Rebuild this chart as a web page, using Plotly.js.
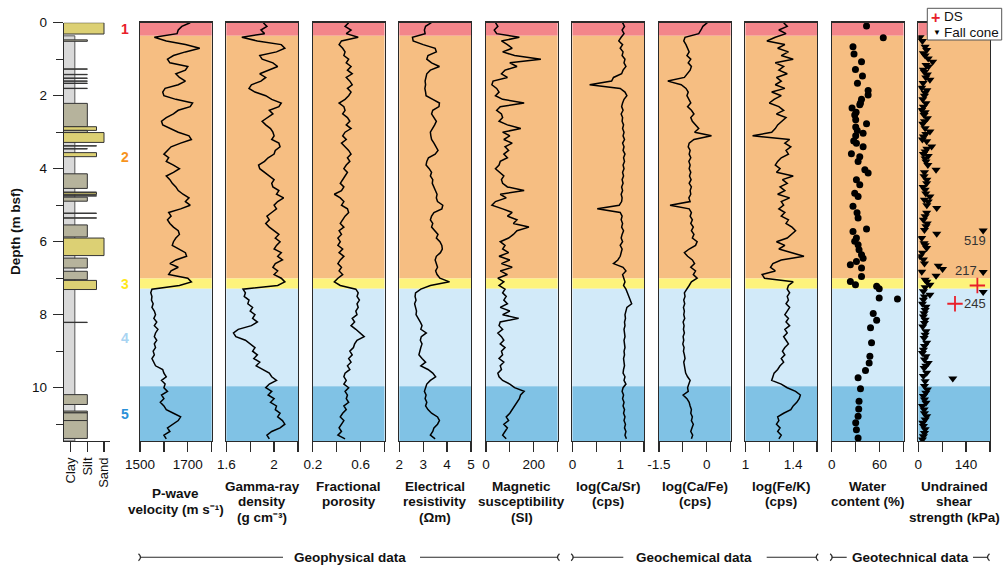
<!DOCTYPE html>
<html><head><meta charset="utf-8">
<script src="https://cdn.plot.ly/plotly-3.0.1.min.js"></script>
<style>html,body{margin:0;padding:0;background:#fff}#chart{width:1004px;height:566px}</style>
</head><body><div id="chart"></div>
<script>
// ---------------- DATA ----------------
const depthGrid = [0,0.1,0.2,0.3,0.4,0.5,0.6,0.7,0.8,0.9,
1,1.1,1.2,1.3,1.4,1.5,1.6,1.7,1.8,1.9,
2,2.1,2.2,2.3,2.4,2.5,2.6,2.7,2.8,2.9,
3,3.1,3.2,3.3,3.4,3.5,3.6,3.7,3.8,3.9,
4,4.1,4.2,4.3,4.4,4.5,4.6,4.7,4.8,4.9,
5,5.1,5.2,5.3,5.4,5.5,5.6,5.7,5.8,5.9,
6,6.1,6.2,6.3,6.4,6.5,6.6,6.7,6.8,6.9,
7,7.1,7.2,7.3,7.4,7.5,7.6,7.7,7.8,7.9,
8,8.1,8.2,8.3,8.4,8.5,8.6,8.7,8.8,8.9,
9,9.1,9.2,9.3,9.4,9.5,9.6,9.7,9.8,9.9,
10,10.1,10.2,10.3,10.4,10.5,10.6,10.7,10.8,10.9,
11,11.1,11.2,11.3,11.4];

const pWave = [1710,1675,1660,1655,1560,1610,1690,1750,1690,1640,
1615,1625,1700,1690,1650,1665,1690,1660,1605,1595,
1600,1650,1720,1710,1660,1640,1610,1590,1595,1630,
1660,1705,1715,1670,1630,1615,1600,1620,1610,1640,
1665,1640,1610,1625,1635,1650,1660,1680,1705,1690,
1710,1670,1620,1630,1615,1625,1640,1660,1665,1650,
1640,1635,1660,1690,1695,1650,1625,1660,1630,1620,
1700,1715,1665,1550,1545,1550,1548,1555,1550,1560,
1565,1558,1570,1560,1575,1565,1560,1570,1560,1565,
1555,1560,1550,1558,1565,1595,1600,1610,1590,1605,
1600,1615,1590,1600,1585,1600,1610,1640,1670,1660,
1640,1615,1625,1600,1610];

const gammaDensity = [1.91,1.94,1.89,1.92,1.73,1.86,2.06,2.09,2.02,1.88,
1.90,1.99,2.03,1.96,1.88,1.93,1.89,1.81,1.79,1.84,
1.93,1.98,2.06,2.04,1.96,1.99,1.95,1.90,1.93,1.97,
1.99,2.00,1.98,2.04,2.05,2.01,2.00,1.95,1.92,1.87,
1.88,1.92,1.97,2.00,1.98,1.99,2.04,2.02,2.08,2.03,
2.00,2.02,1.98,1.94,1.96,1.93,1.96,2.00,2.04,2.01,
2.05,2.02,2.00,2.06,2.03,2.07,2.01,1.99,2.03,2.00,
2.06,2.09,2.03,1.74,1.76,1.75,1.79,1.78,1.82,1.80,
1.84,1.82,1.86,1.81,1.70,1.66,1.68,1.76,1.80,1.84,
1.82,1.86,1.83,1.88,1.85,1.90,1.96,1.98,2.02,1.96,
1.93,1.98,1.95,2.00,1.97,2.02,2.01,2.05,2.03,2.07,
2.09,2.05,1.98,1.94,1.96];

const porosity = [0.50,0.47,0.52,0.48,0.58,0.44,0.42,0.45,0.47,0.46,
0.50,0.48,0.52,0.49,0.53,0.48,0.51,0.53,0.49,0.52,
0.50,0.47,0.42,0.46,0.47,0.45,0.49,0.51,0.48,0.52,
0.47,0.45,0.48,0.44,0.47,0.50,0.52,0.49,0.51,0.48,
0.46,0.49,0.47,0.45,0.43,0.46,0.44,0.38,0.43,0.46,
0.44,0.49,0.50,0.47,0.45,0.43,0.46,0.42,0.44,0.41,
0.43,0.41,0.45,0.42,0.46,0.43,0.41,0.44,0.42,0.45,
0.41,0.38,0.43,0.56,0.58,0.57,0.59,0.57,0.58,0.56,
0.57,0.53,0.55,0.52,0.56,0.60,0.63,0.57,0.55,0.54,
0.51,0.53,0.50,0.52,0.49,0.51,0.47,0.46,0.48,0.46,
0.50,0.47,0.49,0.48,0.50,0.46,0.48,0.45,0.43,0.46,
0.44,0.42,0.44,0.41,0.47];

const resistivity = [3.34,3.10,3.05,3.08,2.55,2.58,3.00,3.50,3.55,3.20,
3.15,3.35,3.68,3.30,3.15,3.12,3.08,3.10,3.07,3.10,
3.12,3.40,3.68,3.66,3.40,3.35,3.45,3.55,3.48,3.38,
3.30,3.32,3.35,3.45,3.55,3.62,3.50,3.22,3.15,3.12,
3.25,3.35,3.30,3.40,3.38,3.45,3.52,3.58,3.55,3.60,
3.82,3.78,3.45,3.35,3.30,3.40,3.35,3.48,3.62,3.55,
3.70,3.78,3.80,3.72,3.55,3.50,3.55,3.60,3.52,3.58,
3.70,4.10,3.30,2.90,2.68,2.66,2.70,2.64,2.68,2.72,
2.70,2.80,2.88,2.95,2.90,3.13,2.92,2.88,2.95,2.90,
2.85,2.82,2.95,3.10,2.90,3.20,3.40,3.52,3.30,3.15,
3.10,3.05,3.12,3.08,3.15,3.10,3.20,3.35,3.60,3.68,
3.60,3.45,3.40,3.30,3.50];

const magSusceptibility = [40,50,35,45,140,65,90,110,70,120,
230,100,130,80,65,90,30,25,45,55,
40,70,160,60,45,65,70,55,90,146,
70,100,75,110,80,95,75,90,60,55,
40,60,75,65,70,90,160,60,85,40,
25,70,110,90,130,115,180,130,115,95,
60,80,70,95,55,100,65,110,60,90,
50,75,55,80,70,85,75,90,60,100,
70,137,60,55,70,50,65,75,60,80,
65,70,55,75,60,65,50,55,70,100,
120,160,145,140,130,120,110,100,85,95,
75,90,80,70,85];

const logCaSr = [1.05,1.09,1.04,1.08,1.02,0.97,1.05,1.00,1.06,1.04,
1.10,1.08,1.12,1.06,1.03,0.86,0.82,0.36,1.00,1.10,
1.14,1.08,1.05,1.03,1.06,1.02,1.05,1.04,1.07,1.05,
1.08,1.06,1.09,1.05,1.08,1.06,1.10,1.07,1.09,1.06,
1.08,1.05,1.07,1.04,1.06,1.03,1.05,1.02,1.04,1.03,
0.98,0.52,1.00,1.04,1.02,1.05,1.03,1.07,1.04,1.02,
1.05,1.00,1.04,1.02,1.00,0.95,0.86,1.06,1.12,1.05,
1.08,1.10,1.07,1.12,1.15,1.18,1.22,1.24,1.14,1.12,
1.10,1.11,1.09,1.10,1.08,1.09,1.10,1.08,1.09,1.10,
1.08,1.09,1.07,1.08,1.09,1.07,1.06,1.10,1.08,1.12,
1.06,1.04,1.07,1.05,1.08,1.06,1.09,1.07,1.10,1.08,
1.11,1.09,1.12,1.10,1.13];

const logCaFe = [0.02,-0.12,-0.18,-0.25,-0.68,-0.72,-0.65,-0.60,-0.55,-0.62,
-0.50,-0.58,-0.48,-0.52,-0.60,-0.70,-1.22,-0.80,-0.65,-0.58,
-0.62,-0.55,-0.50,-0.60,-0.48,-0.40,-0.50,-0.45,-0.35,-0.25,
-0.38,0.15,-0.40,-0.55,-0.58,-0.52,-0.55,-0.50,-0.56,-0.52,
-0.55,-0.50,-0.54,-0.49,-0.55,-0.48,-0.52,-0.50,-0.56,-0.52,
-1.15,-0.55,-0.48,-0.52,-0.45,-0.50,-0.42,-0.48,-0.40,-0.45,
-0.30,-0.35,-0.55,-0.70,-0.60,-0.45,-0.38,-0.50,-0.35,-0.42,
-0.30,-0.48,-0.55,-0.62,-0.70,-0.68,-0.72,-0.69,-0.73,-0.70,
-0.72,-0.69,-0.74,-0.71,-0.73,-0.70,-0.74,-0.72,-0.75,-0.71,
-0.73,-0.70,-0.68,-0.72,-0.70,-0.69,-0.66,-0.60,-0.52,-0.56,
-0.60,-0.58,-0.74,-0.62,-0.55,-0.52,-0.48,-0.50,-0.45,-0.48,
-0.42,-0.46,-0.50,-0.44,-0.48];

const logFeK = [1.32,1.35,1.28,1.34,1.25,1.18,1.33,1.27,1.36,1.30,
1.40,1.25,1.32,1.28,1.35,1.26,1.30,1.25,1.33,1.22,
1.30,1.24,1.20,1.28,1.32,1.26,1.34,1.30,1.27,1.25,
1.22,1.06,1.37,1.33,1.38,1.34,1.36,1.30,1.27,1.25,
1.29,1.26,1.40,1.31,1.35,1.29,1.33,1.27,1.37,1.30,
1.32,1.28,1.33,1.30,1.36,1.34,1.39,1.42,1.38,1.35,
1.26,1.33,1.28,1.38,1.49,1.30,1.23,1.21,1.25,1.14,
1.16,1.40,1.36,1.35,1.37,1.35,1.36,1.34,1.37,1.35,
1.33,1.36,1.34,1.37,1.33,1.35,1.32,1.34,1.36,1.33,
1.31,1.33,1.30,1.32,1.29,1.27,1.24,1.23,1.22,1.30,
1.35,1.42,1.46,1.45,1.43,1.40,1.38,1.32,1.27,1.28,
1.26,1.29,1.27,1.30,1.28];

const waterDepth = [0.09,0.41,0.66,0.86,1.07,1.28,1.46,1.66,1.86,1.98,2.10,2.20,2.25,2.34,2.45,2.53,2.66,2.77,2.86,2.95,3.03,3.10,3.24,3.30,3.40,3.59,3.67,
3.80,4.03,4.12,4.30,4.44,4.67,4.76,5.03,5.21,5.35,5.65,5.72,5.90,5.99,6.08,6.22,6.36,6.45,6.54,6.63,6.72,6.95,7.09,7.18,
7.22,7.29,7.54,7.57,7.97,8.15,8.36,8.77,9.14,9.32,9.53,9.73,10.03,10.37,10.58,10.78,10.96,11.15,11.38];
const waterContent = [43.6,64.6,26.6,27.9,37.3,29.7,38.5,32.2,45.6,45.6,37.3,36.0,35.1,25.4,30.5,28.8,30.0,43.6,30.0,32.0,39.3,30.0,27.5,30.9,39.3,24.6,35.1,
33.0,41.5,45.6,30.9,35.1,28.8,33.0,26.6,31.7,33.0,43.6,26.6,30.9,28.8,33.0,34.2,37.3,39.3,30.9,23.3,37.3,37.3,23.3,29.7,
56.3,59.5,59.5,82.4,52.0,56.3,48.6,49.9,47.8,46.9,42.3,33.0,36.0,34.2,33.8,33.0,30.0,30.9,33.0];

const fallConeDepth = [0.40,0.50,0.66,0.75,0.84,0.90,0.98,1.07,1.16,1.20,1.29,1.35,1.42,1.50,1.56,1.65,1.78,1.85,1.92,2.00,2.10,2.21,2.30,2.39,2.45,2.53,2.62,2.70,2.77,2.89,2.98,3.05,3.12,3.20,3.25,3.39,3.45,3.53,3.60,3.65,3.72,
3.80,3.90,4.03,4.10,4.21,4.30,4.40,4.50,4.58,4.68,4.76,4.85,4.90,5.00,5.08,5.21,5.30,5.40,5.50,5.58,5.68,5.78,5.90,6.04,6.10,6.17,6.30,6.40,6.49,6.60,6.66,6.75,6.82,6.93,7.04,7.10,7.18,7.25,
7.36,7.45,7.50,7.59,7.70,7.78,7.87,7.96,8.05,8.14,8.23,8.32,8.45,8.55,8.64,8.77,8.86,8.96,9.05,9.14,9.23,9.32,9.40,9.46,9.59,9.68,9.75,9.82,9.95,
10.05,10.14,10.23,10.32,10.41,10.50,10.60,10.70,10.78,10.87,10.96,11.05,11.14,11.24,11.33,11.42];
const fallConeStrength = [5,12,20,24.5,15,20,29,42,22.5,30,15,18,26.5,22,34,14,10,25,20,18,13,22.5,15,10,20,17,26.5,18,13,20,34,22,15,12,24.5,39,25,20,15,29,20,
22.5,28,52,18,17,25,24.5,14,20,22,34,18,29,25,54,24.5,20,15,26,22.5,18,54,10,17,20,24.5,12,5,15,18,58.6,71,10,52,20,25,34,20,
15,34,18,15,12,22.5,20,17,15,20,18,13,22.5,20,17,24.5,18,15,12,22.5,18,29,22,17,24.5,15,101,20,18,
26.5,22,15,18,22.5,12,17,18,24.5,20,13,15,20,18,15,12];
// fall-cone values beyond the axis (drawn at the right edge with a label)
const fallConeOffDepth = [5.69,6.83,7.38];
const fallConeOffStrength = [519,217,245];
const dsDepth = [7.20,7.70];
const dsStrength = [173,107.5];

// lithology
const litTop  = [0.00,0.47,1.265,1.415,1.515,1.595,1.655,1.795,2.21,2.85,2.95,3.01,3.37,3.45,3.56,4.14,4.64,4.66,4.74,4.78,5.215,5.345,5.54,5.90,6.45,6.81,7.06,8.205,10.19,10.64,10.69,10.90];
const litBot  = [0.31,0.51,1.275,1.425,1.525,1.605,1.665,1.805,2.85,2.95,3.01,3.28,3.38,3.46,3.67,4.54,4.65,4.71,4.75,4.89,5.225,5.355,5.87,6.38,6.72,7.04,7.31,8.215,10.46,10.69,10.90,11.39];
const litGrain= [3,2,2,2,2,2,2,2,2,2.55,2,3,2.55,2,2.55,2,2.55,2.55,2.55,2,2.55,2.55,2,3,2,2,2.55,2,2,2,2,2];
const litKind = ['sand','silt','silt','silt','silt','silt','silt','silt','silt','sand','silt','sand','silt','silt','sand','silt','silt','sand','silt','silt','silt','silt','silt','sand','silt','silt','sand','silt','silt','silt','silt','silt'];
const clayTop = 0.36, clayBot = 11.46, clayGrain = 1.25;
const grainLabels = ['Clay','Silt','Sand'];
const grainTicks = [1,2,3];

// zones
const zoneNames = ['1','2','3','4','5'];
const zoneTop = [0,0.36,7.01,7.29,9.96];
const zoneBot = [0.36,7.01,7.29,9.96,11.46];

// panels
const panelSeries = [pWave,gammaDensity,porosity,resistivity,magSusceptibility,logCaSr,logCaFe,logFeK];
const panelRange = [[1500,1800],[1.6,2.2],[0.2,0.8],[2,5],[0,300],[0,1.5],[-1.5,0.75],[1,1.6],[0,90],[0,210]];
const panelTickVals = [[1500,1600,1700,1800],[1.6,1.8,2.0,2.2],[0.2,0.4,0.6,0.8],[2,3,4,5],[0,100,200,300],[0,0.5,1,1.5],[-1.5,-0.75,0,0.75],[1,1.2,1.4,1.6],[0,30,60,90],[0,70,140,210]];
const panelLabelVals = [[1500,1700],[1.6,2],[0.2,0.6],[2,3,4,5],[0,200],[0,1],[-1.5,0],[1,1.4],[0,60],[0,140]];
const panelLabelText = [['1500','1700'],['1.6','2'],['0.2','0.6'],['2','3','4','5'],['0','200'],['0','1'],['-1.5','0'],['1','1.4'],['0','60'],['0','140']];
const panelTitles = [['P-wave','velocity (m s⁻¹)'],['Gamma-ray','density','(g cm⁻³)'],['Fractional','porosity'],['Electrical','resistivity','(Ωm)'],['Magnetic','susceptibility','(SI)'],['log(Ca/Sr)','(cps)'],['log(Ca/Fe)','(cps)'],['log(Fe/K)','(cps)'],['Water','content (%)'],['Undrained','shear','strength (kPa)']];
const groupNames = ['Geophysical data','Geochemical data','Geotechnical data'];

// ---------------- STYLE / LAYOUT ----------------
const W = 1004, H = 566;
const X = p => p / W, Y = p => 1 - p / H;
const FONT = 'Liberation Sans, Arial, Helvetica, sans-serif';
const AX = '#2a2a2a';
const yDom = [Y(441), Y(22.7)];
const yRange = [11.46, 0];
const panelLeft = [140, 226.3, 312.8, 399.3, 485.9, 572.4, 658.9, 745.4, 831.8, 918.3];
const panelW = 71.7;
const zoneFill = ['#f3858a','#f6be82','#fdf37c','#d2eaf9','#80c2e5'];
const zoneLabelColor = ['#e8202a','#f7941d','#ffe81a','#a9d4f2','#2a90d8'];
const litColor = {sand:'#dcd074', silt:'#b6b39c'};

const traces = [];
const layout = {
  width: W, height: H, margin: {l:0, r:0, t:0, b:0},
  paper_bgcolor: '#fff', plot_bgcolor: 'rgba(0,0,0,0)',
  showlegend: false, barmode: 'overlay',
  font: {family: FONT, size: 13, color: '#111'},
  shapes: [], annotations: []
};

// lithology axes
layout.xaxis = {domain:[X(64), X(110)], anchor:'y', range:[0.6, 3.36], tickmode:'array', tickvals:grainTicks, ticktext:grainLabels,
  tickangle:-90, ticks:'outside', ticklen:10, tickwidth:1.3, tickcolor:AX, showline:true, linecolor:AX, linewidth:1.3,
  mirror:false, showgrid:false, zeroline:false, tickfont:{size:13, color:'#111'}, fixedrange:true};
layout.yaxis = {domain:yDom, anchor:'x', range:yRange, tickmode:'array', tickvals:[0,2,4,6,8,10], ticks:'outside', ticklen:10, tickwidth:1.3,
  tickcolor:AX, showline:true, linecolor:AX, linewidth:1.3, showgrid:false, zeroline:false,
  minor:{tickmode:'linear', dtick:1, tick0:0, ticks:'outside', ticklen:7, tickwidth:1.3, tickcolor:AX},
  tickfont:{size:13.5, color:'#111'}, ticklabelstandoff:3, fixedrange:true};

// clay column + lithology beds
traces.push({type:'bar', orientation:'h', xaxis:'x', yaxis:'y', y:[(clayTop+clayBot)/2], width:[clayBot-clayTop], x:[clayGrain],
  marker:{color:'#d9d9d9', line:{color:'#555', width:1}}, hoverinfo:'skip'});
traces.push({type:'bar', orientation:'h', xaxis:'x', yaxis:'y',
  y: litTop.map((t,i)=>(t+litBot[i])/2), width: litTop.map((t,i)=>litBot[i]-t), x: litGrain,
  marker:{color: litKind.map(k=>litColor[k]), line:{color:'#333', width:1}}, hoverinfo:'skip'});

// panels
for (let i = 0; i < 10; i++) {
  const n = i + 2;
  layout['xaxis'+n] = {domain:[X(panelLeft[i]), X(panelLeft[i]+panelW)], anchor:'y'+n, range:panelRange[i],
    tickmode:'array', tickvals:panelLabelVals[i], ticktext:panelLabelText[i], ticks:'outside', ticklen:10, tickwidth:1.3,
    minor:{tickmode:'array', tickvals:panelTickVals[i], ticks:'outside', ticklen:10, tickwidth:1.3, tickcolor:AX},
    tickcolor:AX, showline:true, linecolor:AX, linewidth:1.3, mirror:true, showgrid:false, zeroline:false,
    tickfont:{size:13.5, color:'#111'}, fixedrange:true};
  layout['yaxis'+n] = {domain:yDom, anchor:'x'+n, range:yRange, showline:true, linecolor:AX, linewidth:1.3, mirror:true,
    ticks:'', showticklabels:false, showgrid:false, zeroline:false, fixedrange:true};
  for (let z = 0; z < zoneTop.length; z++) {
    layout.shapes.push({type:'rect', xref:'x'+n+' domain', yref:'y'+n, x0:0, x1:1, y0:zoneTop[z], y1:zoneBot[z],
      fillcolor:zoneFill[z], line:{width:0}, layer:'below'});
  }
  if (i < 8) {
    traces.push({type:'scatter', mode:'lines', x:panelSeries[i], y:depthGrid, xaxis:'x'+n, yaxis:'y'+n,
      line:{color:'#000', width:1.5}, hoverinfo:'skip'});
  }
  const lines = panelTitles[i];
  const ys = lines.length === 2 && i === 0 ? [493, 509] : [486.7, 501.9, 517.1];
  lines.forEach((t, k) => layout.annotations.push({xref:'x'+n+' domain', yref:'paper', x:0.5, y:Y(ys[k]),
    xanchor:'center', yanchor:'middle', text:'<b>'+t+'</b>', showarrow:false, font:{size:13.5, color:'#111'}}));
}

// water content
traces.push({type:'scatter', mode:'markers', x:waterContent, y:waterDepth, xaxis:'x10', yaxis:'y10',
  marker:{symbol:'circle', size:7, color:'#000'}, hoverinfo:'skip'});
// shear strength
traces.push({type:'scatter', mode:'markers', x:fallConeStrength, y:fallConeDepth, xaxis:'x11', yaxis:'y11', name:'Fall cone',
  marker:{symbol:'triangle-down', size:8, color:'#000'}, hoverinfo:'skip'});
const offCap = panelRange[9][1] - 20;
traces.push({type:'scatter', mode:'markers', x:fallConeOffStrength.map(()=>offCap), y:fallConeOffDepth, xaxis:'x11', yaxis:'y11',
  marker:{symbol:'triangle-down', size:8, color:'#000'}, hoverinfo:'skip'});
traces.push({type:'scatter', mode:'markers', x:dsStrength, y:dsDepth, xaxis:'x11', yaxis:'y11', name:'DS',
  marker:{symbol:'cross-thin', size:11, color:'#e8202a', line:{color:'#e8202a', width:1.8}}, hoverinfo:'skip'});
const offShift = [[5,-10],[-4,1.5],[5,-11]];
fallConeOffStrength.forEach((v, k) => layout.annotations.push({xref:'x11', yref:'y11', x:offCap, y:fallConeOffDepth[k],
  xanchor:'right', yanchor:'middle', xshift:offShift[k][0], yshift:offShift[k][1], text:String(v), showarrow:false,
  font:{size:13, color:'#333'}}));

// zone numbers
zoneNames.forEach((z, k) => layout.annotations.push({xref:'paper', yref:'y', x:X(125), y:(zoneTop[k]+zoneBot[k])/2,
  xanchor:'center', yanchor:'middle', text:'<b>'+z+'</b>', showarrow:false, font:{size:14, color:zoneLabelColor[k]}}));

// depth title
layout.annotations.push({xref:'paper', yref:'paper', x:X(15), y:Y(232), textangle:-90, xanchor:'center', yanchor:'middle',
  text:'<b>Depth (m bsf)</b>', showarrow:false, font:{size:13.5, color:'#111'}});

// group brackets
const gy = 557.3;
const groups = [
  {name:groupNames[0], cx:350, segs:[[140,283],[420,558]]},
  {name:groupNames[1], cx:694, segs:[[572.7,623.3],[766.7,816.7]]},
  {name:groupNames[2], cx:910.8, segs:[[831.7,846.7],[973,988]]}
];
const cap = (xp, dir) => `M ${X(xp-1.5*dir)} ${Y(gy-3.5)} Q ${X(xp+2.5*dir)} ${Y(gy)} ${X(xp-1.5*dir)} ${Y(gy+3.5)}`;
groups.forEach(g => {
  layout.annotations.push({xref:'paper', yref:'paper', x:X(g.cx), y:Y(gy), xanchor:'center', yanchor:'middle',
    text:'<b>'+g.name+'</b>', showarrow:false, font:{size:13.5, color:'#111'}});
  g.segs.forEach(s => layout.shapes.push({type:'line', xref:'paper', yref:'paper', x0:X(s[0]), x1:X(s[1]), y0:Y(gy), y1:Y(gy),
    line:{color:AX, width:1.1}}));
  layout.shapes.push({type:'path', xref:'paper', yref:'paper', path:cap(g.segs[0][0], 1), line:{color:AX, width:1.3}});
  layout.shapes.push({type:'path', xref:'paper', yref:'paper', path:cap(g.segs[1][1], -1), line:{color:AX, width:1.3}});
});

// legend box (drawn)
layout.shapes.push({type:'rect', xref:'paper', yref:'paper', x0:X(927.3), x1:X(1001.7), y0:Y(40), y1:Y(8.3),
  fillcolor:'#fff', line:{color:'#555', width:1}, layer:'above'});
layout.annotations.push({xref:'paper', yref:'paper', x:X(935), y:Y(17.5), xanchor:'center', yanchor:'middle',
  text:'<b>+</b>', showarrow:false, font:{size:16, color:'#e8202a'}});
layout.annotations.push({xref:'paper', yref:'paper', x:X(941.5), y:Y(16.5), xanchor:'left', yanchor:'middle',
  text:'DS', showarrow:false, font:{size:13.5, color:'#111'}});
layout.annotations.push({xref:'paper', yref:'paper', x:X(936.5), y:Y(32.5), xanchor:'center', yanchor:'middle',
  text:'▼', showarrow:false, font:{size:8, color:'#000'}});
layout.annotations.push({xref:'paper', yref:'paper', x:X(941.5), y:Y(32.7), xanchor:'left', yanchor:'middle',
  text:'Fall cone', showarrow:false, font:{size:13.5, color:'#111'}});

Plotly.newPlot('chart', traces, layout, {displayModeBar:false, staticPlot:true});
</script></body></html>
